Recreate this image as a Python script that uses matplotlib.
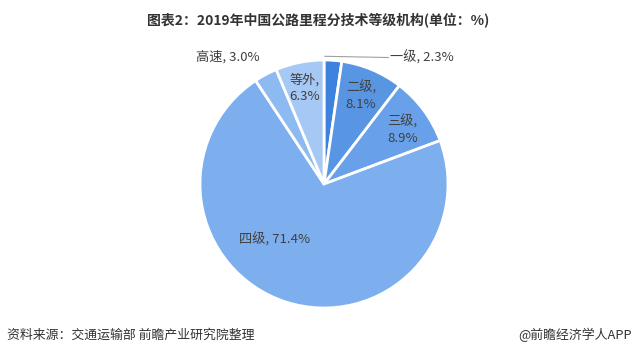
import numpy as np
import matplotlib
matplotlib.use('Agg')
import matplotlib.pyplot as plt

plt.rcParams['font.family'] = ['Noto Sans CJK SC', 'DejaVu Sans']

# 数据
categories = ['一级', '二级', '三级', '四级', '高速', '等外']
shares = [2.3, 8.1, 8.9, 71.4, 3.0, 6.3]
colors = ['#3d82dd', '#5896e4', '#68a1e9', '#7dafef', '#8cbaf1', '#a6c8f4']

# 标签位置 (半径, 相对中线角度偏移) 以及是否换行
label_r = [1.0, 0.77, 0.77, 0.6, 1.28, 0.79]
label_da = [0, 0, -2, -24, 9, 0]
two_lines = [False, True, True, False, False, True]

fig = plt.figure(figsize=(6.37, 3.57), dpi=100)
cx, cy, R = 324, 184, 124
W, H = 637, 357
ax = fig.add_axes([(cx - R) / W, (H - cy - R) / H, 2 * R / W, 2 * R / H])

wedges, _ = ax.pie(shares, colors=colors, startangle=90, counterclock=False,
                   radius=1.0,
                   wedgeprops=dict(edgecolor='white', linewidth=2.0))
ax.set_xlim(-1, 1)
ax.set_ylim(-1, 1)
ax.set_aspect('equal')
ax.axis('off')

txt_color = '#404040'
for i, w in enumerate(wedges):
    mid = np.deg2rad((w.theta1 + w.theta2) / 2 + label_da[i])
    r = label_r[i]
    x, y = r * np.cos(mid), r * np.sin(mid)
    if two_lines[i]:
        s = f'{categories[i]},\n{shares[i]:.1f}%'
    else:
        s = f'{categories[i]}, {shares[i]:.1f}%'
    if i == 0:
        # 一级 用引线放在右侧
        ax.plot([x * 0.08, 0.52], [1.03, 1.02], color='#a0a0a0', lw=0.8,
                clip_on=False)
        ax.text(0.53, 1.02, s, ha='left', va='center', fontsize=9.5,
                color=txt_color, clip_on=False)
    else:
        ax.text(x, y, s, ha='center', va='center', fontsize=9.5,
                color=txt_color, linespacing=1.35, clip_on=False)

fig.text(0.499, 1 - 20 / H, '图表2：2019年中国公路里程分技术等级机构(单位：%)',
         ha='center', va='center', fontsize=10, fontweight='bold', color='#333333')
fig.text(7 / W, 1 - 335 / H, '资料来源：交通运输部 前瞻产业研究院整理',
         ha='left', va='center', fontsize=9.3, color='#333333')
fig.text(632 / W, 1 - 335 / H, '@前瞻经济学人APP',
         ha='right', va='center', fontsize=9.3, color='#333333')

fig.savefig('out.png', dpi=100)
